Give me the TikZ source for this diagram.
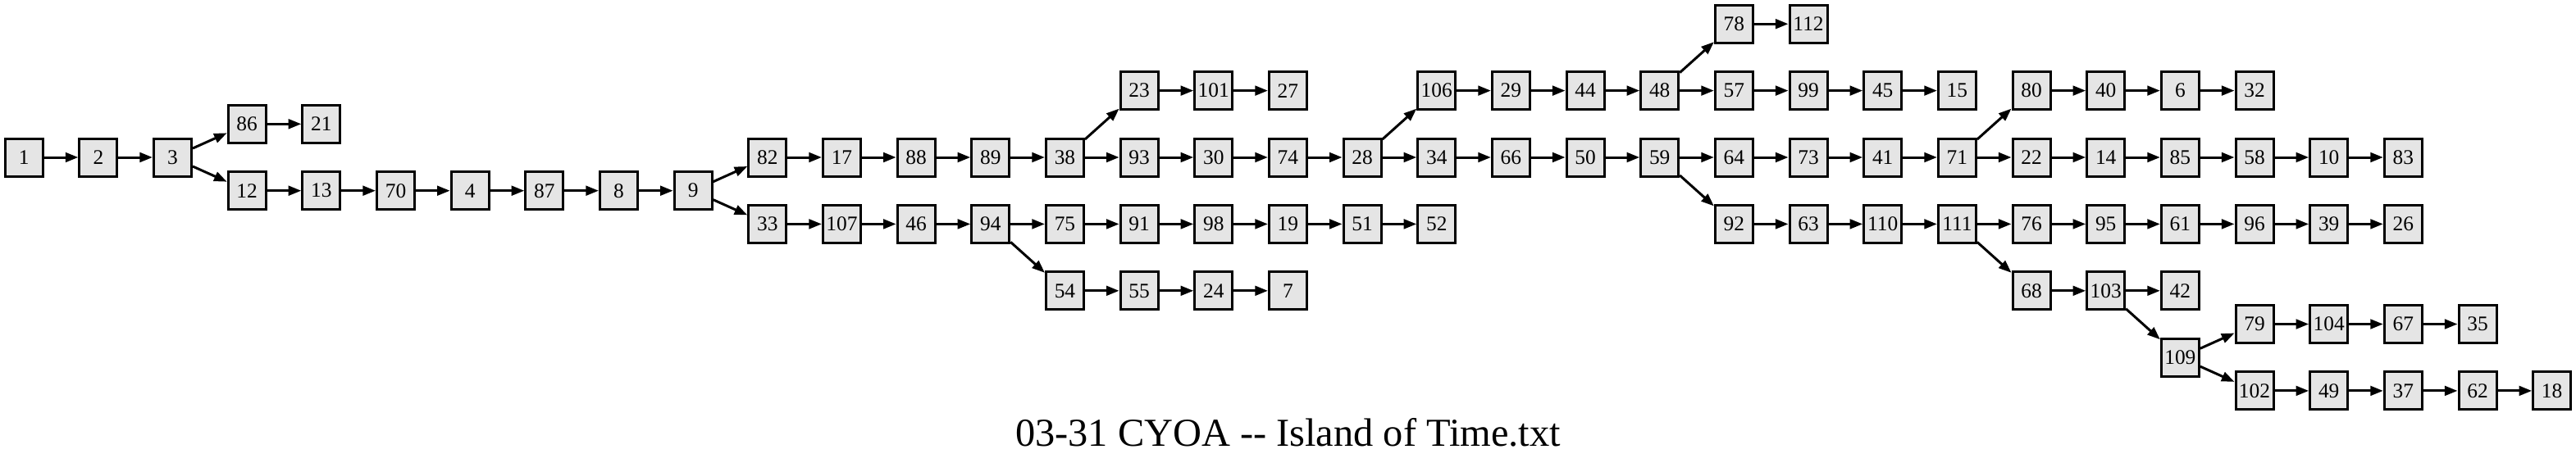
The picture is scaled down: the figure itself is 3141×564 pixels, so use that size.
\documentclass[tikz,border=0pt]{standalone}
\usepackage{fontspec}
\newfontfamily\tnr{Liberation Serif}
\usetikzlibrary{arrows.meta}
\definecolor{boxfill}{HTML}{E5E5E5}
\begin{document}
\begin{tikzpicture}[x=0.5pt,y=-0.5pt,
  box/.style={draw=black,line width=1.5pt,fill=boxfill,minimum width=23pt,minimum height=23pt,inner sep=0pt,font=\tnr\fontsize{12.7}{14}\selectfont},
  edge/.style={line width=1.5pt,-{Triangle[length=7.8pt,width=5.8pt]}},
  title/.style={anchor=base,inner sep=0pt,font=\tnr\fontsize{24.2}{28}\selectfont}]
\useasboundingbox (0,0) rectangle (3141,564);
\foreach \n/\c/\r in {1/0/4, 2/1/4, 3/2/4,
  86/3/3, 21/4/3,
  12/3/5, 13/4/5, 70/5/5, 4/6/5, 87/7/5, 8/8/5, 9/9/5,
  82/10/4, 17/11/4, 88/12/4, 89/13/4, 38/14/4, 93/15/4, 30/16/4, 74/17/4, 28/18/4, 34/19/4, 66/20/4, 50/21/4, 59/22/4, 64/23/4, 73/24/4, 41/25/4, 71/26/4, 22/27/4, 14/28/4, 85/29/4, 58/30/4, 10/31/4, 83/32/4,
  23/15/2, 101/16/2, 27/17/2, 106/19/2, 29/20/2, 44/21/2, 48/22/2, 57/23/2, 99/24/2, 45/25/2, 15/26/2, 80/27/2, 40/28/2, 6/29/2, 32/30/2,
  78/23/0, 112/24/0,
  33/10/6, 107/11/6, 46/12/6, 94/13/6, 75/14/6, 91/15/6, 98/16/6, 19/17/6, 51/18/6, 52/19/6, 92/23/6, 63/24/6, 110/25/6, 111/26/6, 76/27/6, 95/28/6, 61/29/6, 96/30/6, 39/31/6, 26/32/6,
  54/14/8, 55/15/8, 24/16/8, 7/17/8, 68/27/8, 103/28/8, 42/29/8,
  109/29/10,
  79/30/9, 104/31/9, 67/32/9, 35/33/9,
  102/30/11, 49/31/11, 37/32/11, 62/33/11, 18/34/11}
  \node[box] (n\n) at ({29.2+90.66*\c},{29.2+40.7*\r}) {\n};
\foreach \a/\b in {1/2, 2/3, 3/86, 3/12, 86/21, 12/13, 13/70, 70/4, 4/87, 87/8, 8/9, 9/82, 9/33,
  82/17, 17/88, 88/89, 89/38, 38/23, 38/93, 23/101, 101/27, 93/30, 30/74, 74/28, 28/106, 28/34,
  106/29, 29/44, 44/48, 48/78, 48/57, 78/112, 57/99, 99/45, 45/15, 34/66, 66/50, 50/59, 59/64, 59/92,
  64/73, 73/41, 41/71, 71/80, 71/22, 80/40, 40/6, 6/32, 22/14, 14/85, 85/58, 58/10, 10/83,
  33/107, 107/46, 46/94, 94/75, 94/54, 75/91, 91/98, 98/19, 19/51, 51/52, 54/55, 55/24, 24/7,
  92/63, 63/110, 110/111, 111/76, 111/68, 76/95, 95/61, 61/96, 96/39, 39/26, 68/103, 103/42, 103/109,
  109/79, 109/102, 79/104, 104/67, 67/35, 102/49, 49/37, 37/62, 62/18}
  \draw[edge] (n\a) -- (n\b);
\node[title] (title) at (1570.5,544.3) {03-31 CYOA -- Island of Time.txt};
\end{tikzpicture}
\end{document}
